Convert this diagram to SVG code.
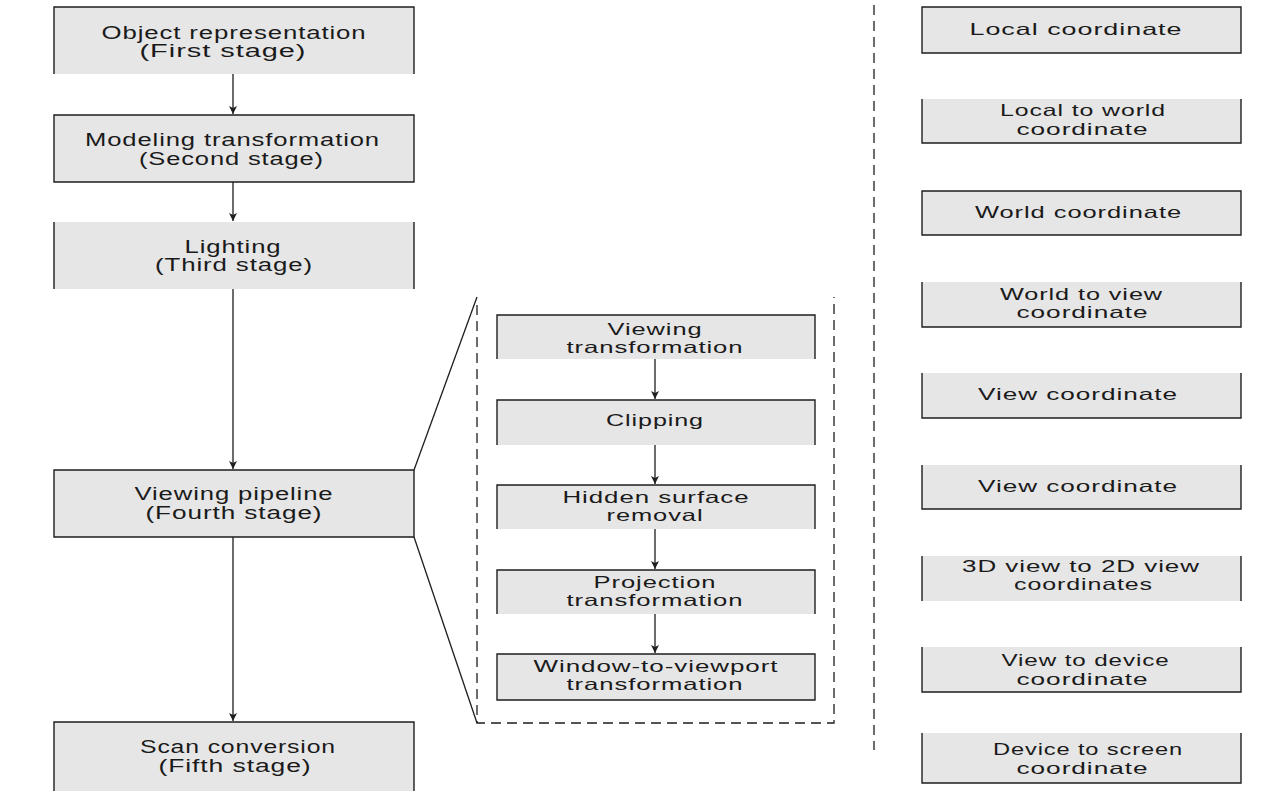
<svg xmlns="http://www.w3.org/2000/svg" width="1261" height="793" viewBox="0 0 1261 793">
  <style>
    .bg { fill: #ffffff; }
    .box { fill: #e6e6e6; stroke: none; }
    .edge { fill: none; stroke: #1e1e1e; stroke-width: 1.4; }
    .lbl { font-family: "Liberation Sans", Arial, sans-serif; font-size: 16.5px; fill: #1a1a1a; text-anchor: middle; letter-spacing: 0.6px; }
    .big { font-size: 17.5px; }
    .conn { fill: none; stroke: #1e1e1e; stroke-width: 1.3; }
    .dash { fill: none; stroke: #1e1e1e; stroke-width: 1.3; stroke-dasharray: 10 6; }
  </style>
  <defs>
    <marker id="arrow" markerUnits="userSpaceOnUse" markerWidth="9" markerHeight="9" refX="8" refY="4" orient="auto">
      <path d="M0,0 L8,4 L0,8 L2,4 z" fill="#1e1e1e"/>
    </marker>
  </defs>
  <rect class="bg" x="0" y="0" width="1261" height="793"/>

  <!-- connectors: stage arrows, zoom wedge and separators -->
  <g id="connectors">
    <line class="conn" x1="233" y1="74" x2="233" y2="114" marker-end="url(#arrow)"/>
    <line class="conn" x1="233" y1="182" x2="233" y2="221" marker-end="url(#arrow)"/>
    <line class="conn" x1="233" y1="289" x2="233" y2="469" marker-end="url(#arrow)"/>
    <line class="conn" x1="233" y1="537" x2="233" y2="721" marker-end="url(#arrow)"/>
    <line class="conn" x1="655" y1="359" x2="655" y2="399" marker-end="url(#arrow)"/>
    <line class="conn" x1="655" y1="445" x2="655" y2="484" marker-end="url(#arrow)"/>
    <line class="conn" x1="655" y1="529" x2="655" y2="569" marker-end="url(#arrow)"/>
    <line class="conn" x1="655" y1="614" x2="655" y2="653" marker-end="url(#arrow)"/>
    <line class="conn" x1="414" y1="470" x2="477" y2="297"/>
    <line class="conn" x1="414" y1="537" x2="477" y2="723"/>
    <path class="dash" d="M477,305 V723 H834 V297"/>
    <line class="dash" x1="874" y1="5" x2="874" y2="750"/>
  </g>

  <!-- main pipeline stages -->
  <g id="stage1">
    <rect class="box" x="54" y="7" width="360" height="67"/>
    <path class="edge" d="M54,74 V7 H414 V74"/>
    <text class="lbl big" x="234" y="39" textLength="265" lengthAdjust="spacingAndGlyphs">Object representation</text>
    <text class="lbl big" x="223" y="57" textLength="167" lengthAdjust="spacingAndGlyphs">(First stage)</text>
  </g>
  <g id="stage2">
    <rect class="box" x="54" y="115" width="360" height="67"/>
    <path class="edge" d="M54,115 H414 V182 H54 Z"/>
    <text class="lbl big" x="232.5" y="146" textLength="295" lengthAdjust="spacingAndGlyphs">Modeling transformation</text>
    <text class="lbl big" x="231.5" y="165" textLength="185" lengthAdjust="spacingAndGlyphs">(Second stage)</text>
  </g>
  <g id="stage3">
    <rect class="box" x="54" y="222" width="360" height="67"/>
    <path class="edge" d="M54,222 V289 M414,222 V289"/>
    <text class="lbl big" x="233" y="253" textLength="97" lengthAdjust="spacingAndGlyphs">Lighting</text>
    <text class="lbl big" x="234" y="271" textLength="158" lengthAdjust="spacingAndGlyphs">(Third stage)</text>
  </g>
  <g id="stage4">
    <rect class="box" x="54" y="470" width="360" height="67"/>
    <path class="edge" d="M54,470 H414 V537 H54 Z"/>
    <text class="lbl big" x="234" y="500" textLength="199" lengthAdjust="spacingAndGlyphs">Viewing pipeline</text>
    <text class="lbl big" x="234" y="519" textLength="177" lengthAdjust="spacingAndGlyphs">(Fourth stage)</text>
  </g>
  <g id="stage5">
    <rect class="box" x="54" y="722" width="360" height="69"/>
    <path class="edge" d="M54,791 V722 H414 V791"/>
    <text class="lbl big" x="238" y="753" textLength="196" lengthAdjust="spacingAndGlyphs">Scan conversion</text>
    <text class="lbl big" x="235" y="772" textLength="153" lengthAdjust="spacingAndGlyphs">(Fifth stage)</text>
  </g>

  <!-- viewing pipeline detail -->
  <g id="view-transform">
    <rect class="box" x="497" y="315" width="318" height="44"/>
    <path class="edge" d="M497,359 V315 H815 V359"/>
    <text class="lbl" x="655" y="335" textLength="95" lengthAdjust="spacingAndGlyphs">Viewing</text>
    <text class="lbl" x="655" y="353" textLength="177" lengthAdjust="spacingAndGlyphs">transformation</text>
  </g>
  <g id="clipping">
    <rect class="box" x="497" y="400" width="318" height="45"/>
    <path class="edge" d="M497,445 V400 H815 V445"/>
    <text class="lbl" x="655" y="426" textLength="98" lengthAdjust="spacingAndGlyphs">Clipping</text>
  </g>
  <g id="hidden-surface">
    <rect class="box" x="497" y="485" width="318" height="44"/>
    <path class="edge" d="M497,529 V485 H815 V529"/>
    <text class="lbl" x="656" y="503" textLength="187" lengthAdjust="spacingAndGlyphs">Hidden surface</text>
    <text class="lbl" x="655" y="521" textLength="97" lengthAdjust="spacingAndGlyphs">removal</text>
  </g>
  <g id="projection">
    <rect class="box" x="497" y="570" width="318" height="44"/>
    <path class="edge" d="M497,614 V570 H815 V614"/>
    <text class="lbl" x="655" y="588" textLength="123" lengthAdjust="spacingAndGlyphs">Projection</text>
    <text class="lbl" x="655" y="606" textLength="177" lengthAdjust="spacingAndGlyphs">transformation</text>
  </g>
  <g id="window-viewport">
    <rect class="box" x="497" y="654" width="318" height="46"/>
    <path class="edge" d="M497,654 H815 V700 H497 Z"/>
    <text class="lbl" x="656" y="672" textLength="245" lengthAdjust="spacingAndGlyphs">Window-to-viewport</text>
    <text class="lbl" x="655" y="690" textLength="177" lengthAdjust="spacingAndGlyphs">transformation</text>
  </g>

  <!-- coordinate systems -->
  <g id="local">
    <rect class="box" x="922" y="7" width="319" height="46"/>
    <path class="edge" d="M922,7 H1241 V53 H922 Z"/>
    <text class="lbl" x="1076" y="35" textLength="213" lengthAdjust="spacingAndGlyphs">Local coordinate</text>
  </g>
  <g id="local-to-world">
    <rect class="box" x="922" y="99" width="319" height="44"/>
    <path class="edge" d="M922,99 V143 H1241 V99"/>
    <text class="lbl" x="1083" y="116" textLength="166" lengthAdjust="spacingAndGlyphs">Local to world</text>
    <text class="lbl" x="1082.5" y="135" textLength="132" lengthAdjust="spacingAndGlyphs">coordinate</text>
  </g>
  <g id="world">
    <rect class="box" x="922" y="191" width="319" height="44"/>
    <path class="edge" d="M922,191 H1241 V235 H922 Z"/>
    <text class="lbl" x="1078.5" y="218" textLength="207" lengthAdjust="spacingAndGlyphs">World coordinate</text>
  </g>
  <g id="world-to-view">
    <rect class="box" x="922" y="282" width="319" height="45"/>
    <path class="edge" d="M922,282 V327 H1241 V282"/>
    <text class="lbl" x="1081.5" y="300" textLength="163" lengthAdjust="spacingAndGlyphs">World to view</text>
    <text class="lbl" x="1082.5" y="318" textLength="132" lengthAdjust="spacingAndGlyphs">coordinate</text>
  </g>
  <g id="view-1">
    <rect class="box" x="922" y="373" width="319" height="45"/>
    <path class="edge" d="M922,373 V418 H1241 V373"/>
    <text class="lbl" x="1078" y="400" textLength="200" lengthAdjust="spacingAndGlyphs">View coordinate</text>
  </g>
  <g id="view-2">
    <rect class="box" x="922" y="465" width="319" height="44"/>
    <path class="edge" d="M922,465 V509 H1241 V465"/>
    <text class="lbl" x="1078" y="492" textLength="200" lengthAdjust="spacingAndGlyphs">View coordinate</text>
  </g>
  <g id="view-3d-2d">
    <rect class="box" x="922" y="556" width="319" height="45"/>
    <path class="edge" d="M922,556 V601 M1241,556 V601"/>
    <text class="lbl" x="1081" y="572" textLength="238" lengthAdjust="spacingAndGlyphs">3D view to 2D view</text>
    <text class="lbl" x="1083.5" y="590" textLength="139" lengthAdjust="spacingAndGlyphs">coordinates</text>
  </g>
  <g id="view-to-device">
    <rect class="box" x="922" y="647" width="319" height="45"/>
    <path class="edge" d="M922,647 V692 H1241 V647"/>
    <text class="lbl" x="1085.5" y="666" textLength="168" lengthAdjust="spacingAndGlyphs">View to device</text>
    <text class="lbl" x="1082.5" y="685" textLength="132" lengthAdjust="spacingAndGlyphs">coordinate</text>
  </g>
  <g id="device-to-screen">
    <rect class="box" x="922" y="733" width="319" height="50"/>
    <path class="edge" d="M922,733 V783 H1241 V733"/>
    <text class="lbl" x="1088" y="755" textLength="190" lengthAdjust="spacingAndGlyphs">Device to screen</text>
    <text class="lbl" x="1082.5" y="774" textLength="132" lengthAdjust="spacingAndGlyphs">coordinate</text>
  </g>
</svg>
